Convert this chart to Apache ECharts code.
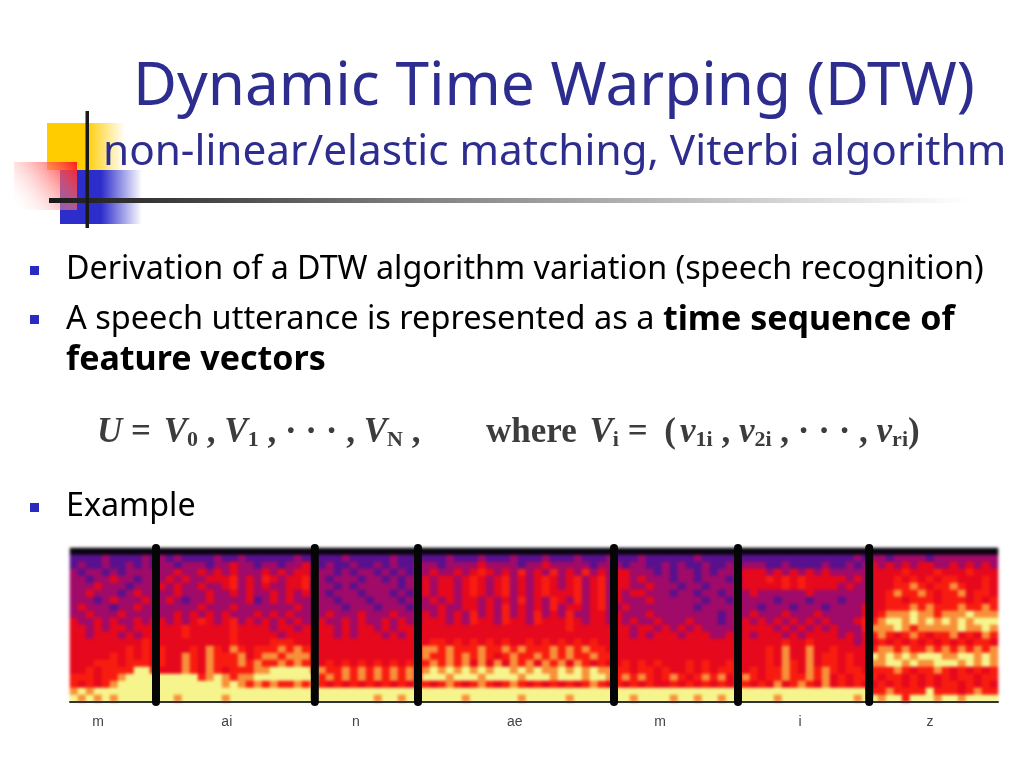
<!DOCTYPE html>
<html>
<head>
<meta charset="utf-8">
<title>Dynamic Time Warping</title>
<script src="https://cdn.jsdelivr.net/npm/echarts@6/dist/echarts.min.js"></script>
<style>
body { margin: 0; background: #fff; }
#spec, #main { position: absolute; left: 0; top: 0; width: 1024px; height: 768px; }
/* the source spectrogram is a soft jpeg */
#spec { filter: blur(1.8px); }
</style>
</head>
<body>
<div id="spec"></div>
<div id="main"></div>
<script>
// spectrogram levels, one string per row from the top
// columns grouped by phoneme: m ai n ae m i z
var specRows = [
    "00000000000 00000000000000000000 0000000000000 000000000000000000000000 0000000000000000 0000000000000000 0000000000000000",
    "11112111121 21211112112111111211 1112111112111 111211121112111211121112 1112111111211111 1111111111111121 2212222122222222",
    "12112112121 22122212232212212232 1211211212112 221222232222122322222122 2122112121121121 2221121111211212 3232323322323232",
    "21221212222 22322323232223232332 2212122121212 232232343232423242324232 3322212122121222 3332323232322222 3333433343334333",
    "22122322122 23232233342324323342 2122212212122 323323432342323432342342 3323222122122212 3334343433333232 3334343434433343",
    "22232221222 32322322342323223342 2212122222122 323323432342323432342342 3322322212212222 3333343433332322 3334454344543343",
    "22322212322 22322232232322323232 2122212221212 323323432342323433342342 3233222122122122 2322222232222222 3345445434453443",
    "22212322232 23212232222312323222 2212221222122 232323323232423243242342 3222322222212212 2222122212221222 3344344434443434",
    "23222122322 22222322232222222322 2221222122212 223223323242323242332342 2322222222122222 2212221222122223 3344454544454454",
    "22322232222 22323232322232323222 2322232223222 323232423242324232422332 3222322222222122 2322232223222223 3455565545556555",
    "32232322323 32323432342323232322 3223232232322 333232433243324333432332 3232232223222122 3232323232322234 4566565656565666",
    "33232332333 33343333343333233233 3323233232333 333333333333333333433333 3323323232322222 3333232323232224 5556545555565565",
    "33233323233 33343333343333323333 3323233323233 333333333333333333333333 3323233323332232 3233323233332323 4543454344534354",
    "33333333343 33333333343333444333 3333333333333 344343434343343434343433 3333333333333333 3333343343333323 3434343434343443",
    "33333334343 43334354354344454544 3333333333333 554544454454544454545443 3333333333333333 3334353353343333 4554544545454545",
    "33333434343 43354354445345545554 3333333333333 544545454345445454544544 3333333333333333 3334353353443433 6565656665566565",
    "33344434443 43354354445454454544 3434343434343 454545353535453545354343 3434343334343343 3334354353443433 5566565566656565",
    "33434444664 33354354344455666665 5445454545454 565656565665656556565655 4434434334343443 3434454354543443 4445434454343434",
    "44434456666 66666456545566666666 4545454545454 666566656666566656665665 4545434543454534 5434454454534344 4344343434344344",
    "43434566666 66666666565454544545 4343434343434 434543454345434343434543 4343433434343434 4343534543534343 3434343434434343",
    "56566666666 66666666666666666666 6666666666666 666666666666666666666666 6666666666666666 6666666666666666 4454444644434544",
    "65656566666 66566666566666666666 6666666566566 666665666666566666566666 6656666566566566 6666566666666656 6566466656656666"
];
var levelColors = ["#0a0410", "#58108e", "#a00a68", "#e6081c", "#f81c10", "#f8903a", "#f6f48c"];

// phoneme boundaries and label centres, in spectrogram columns
var boundaries = [10.75, 30.6, 43.5, 68, 83.5, 99.9];
var phonemes = ["m", "ai", "n", "ae", "m", "i", "z"];
var phonemeCenters = [3.5, 19.6, 35.75, 55.6, 73.75, 91.25, 107.5];

var columnCount = specRows[0].replace(/ /g, "").length;
var specData = [];
var columns = [];
var rows = [];
specRows.forEach(function(line, r) {
    rows.push(r);
    line.replace(/ /g, "").split("").forEach(function(ch, c) {
        specData.push([c, r, +ch]);
    });
});
for (var i = 0; i < columnCount; i++) {
    columns.push(i);
}

var plotGrid = { left : 70, top : 548, width : 928, height : 154 };

var specChart = echarts.init(document.getElementById('spec'));
specChart.setOption({
    animation : false,
    grid : plotGrid,
    visualMap : {
        show : false,
        dimension : 2,
        min : 0,
        max : 6,
        inRange : { color : levelColors }
    },
    xAxis : { type : 'category', data : columns, show : false },
    yAxis : { type : 'category', data : rows, inverse : true, show : false },
    series : [{
        type : 'heatmap',
        data : specData,
        progressive : 0
    }]
});

var series = [];
boundaries.forEach(function(b) {
    series.push({
        type : 'line',
        data : [[b, 0], [b, 1]],
        symbol : 'none',
        clip : false,
        lineStyle : { color : '#050505', width : 8, cap : 'round' }
    });
});

function hGrad(stops) {
    return new echarts.graphic.LinearGradient(0, 0, 1, 0, stops);
}

var blue = '#2d2d8f';
var sans = '"Noto Sans", sans-serif';
var serif = '"Liberation Serif", serif';

function slideText(x, y, text, size, color) {
    return {
        type : 'text',
        x : x,
        y : y,
        z : 10,
        style : { text : text, font : size + 'px ' + sans, fill : color }
    };
}
function bullet(y) {
    return { type : 'rect', shape : { x : 30, y : y, width : 9, height : 9 }, style : { fill : '#2a2ac0' } };
}

var formulaRich = {
    t : { font : 'bold 35px ' + serif, fill : '#3c3c3c' },
    i : { font : 'italic bold 35px ' + serif, fill : '#3c3c3c' },
    s : { font : 'bold 22px ' + serif, fill : '#3c3c3c', verticalAlign : 'bottom', padding : [14, 0, 0, 0] },
    p : { font : 'bold 16px ' + serif } // 4px spacer
};

var graphics = [
    // slide decoration
    { type : 'rect', shape : { x : 47, y : 123, width : 78, height : 47 },
      style : { fill : hGrad([{ offset : 0, color : '#ffcc00' }, { offset : 0.5, color : '#ffcc00' }, { offset : 1, color : 'rgba(255,204,0,0)' }]) } },
    { type : 'rect', shape : { x : 60, y : 170, width : 82, height : 54 },
      style : { fill : hGrad([{ offset : 0, color : '#2d2dcc' }, { offset : 0.5, color : '#2d2dcc' }, { offset : 1, color : 'rgba(45,45,204,0)' }]) } },
    { type : 'rect', shape : { x : 14, y : 162, width : 63, height : 48 },
      style : { fill : new echarts.graphic.LinearGradient(1, 0, 0, 1, [{ offset : 0, color : '#ff1a1a' }, { offset : 1, color : 'rgba(255,255,255,0)' }]) } },
    { type : 'rect', shape : { x : 49, y : 198, width : 920, height : 5 },
      style : { fill : hGrad([{ offset : 0, color : '#1a1a1a' }, { offset : 0.4, color : '#808080' }, { offset : 1, color : '#ffffff' }]) } },
    { type : 'rect', shape : { x : 85.5, y : 111, width : 3.5, height : 117 }, style : { fill : '#1a1a1a' } },
    bullet(266), bullet(315), bullet(503),
    // titles
    slideText(133, 58, 'Dynamic Time Warping (DTW)', 60.3, blue),
    slideText(103, 132, 'non-linear/elastic matching, Viterbi algorithm', 42.3, blue),
    // body
    slideText(66, 254, 'Derivation of a DTW algorithm variation (speech recognition)', 32.25, '#000'),
    {
        type : 'text', x : 66, y : 303, z : 10,
        style : {
            text : '{a|A speech utterance is represented as a }{b|time sequence of}',
            rich : {
                a : { font : '32.5px ' + sans, fill : '#000' },
                b : { font : 'bold 34px ' + sans, fill : '#000' }
            }
        }
    },
    {
        type : 'text', x : 66, y : 343, z : 10,
        style : { text : 'feature vectors', font : 'bold 34px ' + sans, fill : '#000' }
    },
    {
        type : 'text', x : 97, y : 415, z : 10,
        style : {
            text : '{i|U}{t| = }{p| }{i|V}{s|0}{t| , }{i|V}{s|1}{t| , · · · , }{i|V}{s|N}{t| ,}',
            rich : formulaRich
        }
    },
    {
        type : 'text', x : 486, y : 415, z : 10,
        style : {
            text : '{t|where }{p| }{i|V}{s|i}{t| = }{p| }{p| }{t|(}{p| }{i|v}{s|1i}{t| , }{i|v}{s|2i}{t| , · · · , }{i|v}{s|ri}{t|)}',
            rich : formulaRich
        }
    },
    slideText(66, 491, 'Example', 32.25, '#000')
];

var myChart = echarts.init(document.getElementById('main'));
var option = {
    animation : false,
    grid : plotGrid,
    xAxis : {
        type : 'value',
        min : 0,
        max : columnCount,
        splitLine : { show : false },
        axisTick : { show : false },
        axisLine : { show : true, lineStyle : { color : '#333', width : 2 } },
        axisLabel : {
            customValues : phonemeCenters,
            hideOverlap : false,
            margin : 13,
            fontSize : 14,
            fontFamily : 'Liberation Sans',
            color : '#444',
            formatter : function(v) {
                return phonemes[phonemeCenters.indexOf(v)];
            }
        }
    },
    yAxis : {
        type : 'value',
        min : 0,
        max : 1,
        show : false
    },
    series : series,
    graphic : graphics
};
myChart.setOption(option);
</script>
</body>
</html>
